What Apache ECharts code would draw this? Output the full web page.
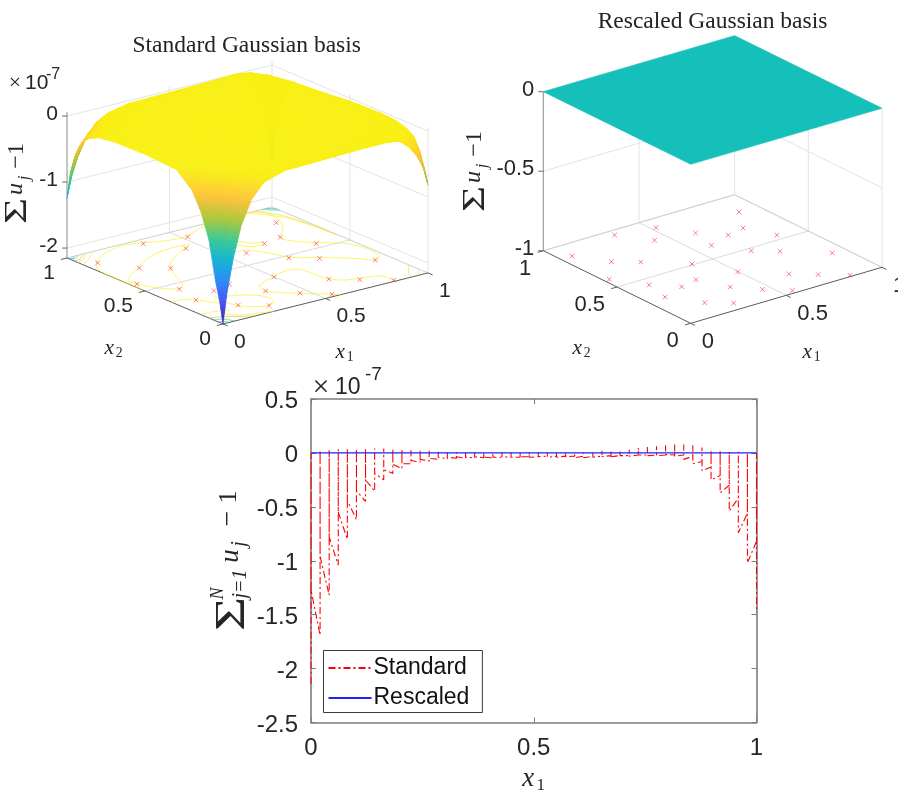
<!DOCTYPE html>
<html><head><meta charset="utf-8">
<style>html,body{margin:0;padding:0;background:#fff}#c{width:898px;height:791px}</style>
<script src="https://cdn.jsdelivr.net/npm/echarts@6/dist/echarts.min.js"></script>
</head><body><div id="c"></div>
<script>
// ---------- DATA ----------
const titleStandard = 'Standard Gaussian basis';
const titleRescaled = 'Rescaled Gaussian basis';
const legendNames = ['Standard', 'Rescaled'];
const floorTicks = [0, 0.5, 1];
const zTicksStandard = [0, -1, -2];
const zTicksRescaled = [0, -0.5, -1];
const lineTicksX = [0, 0.5, 1];
const lineTicksY = [-2.5, -2, -1.5, -1, -0.5, 0, 0.5];

const centresX1 = [.899,.806,.711,.870,.617,.587,.682,.772,.932,.523,.434,.338,.059,.150,.244,.399,.026,.119,.214,.308,.091,.183,.276,.371,.461,.551,.496,.651,.742,.842];
const centresX2 = [.839,.691,.668,.545,.768,.621,.474,.396,.249,.914,.808,.955,.881,.733,.656,.509,.586,.436,.339,.364,.292,.143,.067,.214,.112,.025,.325,.177,.098,.012];

const surfaceNodes = [0,.02,.05,.09,.14,.2,.3,.5,.7,.8,.86,.91,.95,.98,1];
// rows: x2 node, columns: x1 node (values in units of 1e-7)
const standardSurface = [
 [-2.15,-1.69,-1.20,-.72,-.37,-.16,-.06,-.04,-.02,-.02,-.04,-.18,-.36,-.56,-.82],
 [-1.85,-1.46,-1.04,-.64,-.33,-.16,-.07,-.04,-.02,-.03,-.05,-.15,-.28,-.43,-.62],
 [-1.52,-1.21,-.86,-.53,-.28,-.14,-.07,-.04,-.02,-.02,-.04,-.10,-.17,-.26,-.37],
 [-.97,-.77,-.55,-.34,-.18,-.10,-.05,-.03,-.02,-.01,-.02,-.05,-.09,-.12,-.17],
 [-.60,-.48,-.34,-.22,-.12,-.07,-.04,-.03,-.02,-.01,0,-.03,-.05,-.07,-.09],
 [-.32,-.26,-.19,-.12,-.07,-.05,-.03,-.03,-.02,0,0,-.01,-.02,-.03,-.05],
 [-.11,-.09,-.08,-.06,-.04,-.03,-.03,-.02,-.01,0,.01,0,-.01,-.02,-.03],
 [-.08,-.07,-.06,-.05,-.04,-.03,-.03,-.02,-.01,.01,.01,.01,0,-.02,-.05],
 [-.09,-.08,-.07,-.06,-.05,-.04,-.03,-.02,.01,.03,.03,.01,-.02,-.06,-.11],
 [-.13,-.11,-.09,-.07,-.05,-.04,-.03,-.01,.03,.05,.05,.02,-.02,-.08,-.15],
 [-.20,-.16,-.13,-.09,-.07,-.05,-.03,0,.03,.06,.06,.02,-.04,-.12,-.20],
 [-.33,-.26,-.20,-.14,-.09,-.06,-.03,0,.04,.07,.06,.01,-.07,-.19,-.33],
 [-.57,-.44,-.32,-.20,-.11,-.07,-.04,-.01,.03,.07,.04,-.06,-.17,-.38,-.62],
 [-.87,-.66,-.48,-.30,-.16,-.09,-.05,-.02,.01,.03,-.01,-.15,-.31,-.68,-1.02],
 [-1.25,-.96,-.68,-.42,-.21,-.105,-.04,-.03,-.02,-.01,-.08,-.28,-.50,-1.0,-1.48]
];
const rescaledNodes = [0, 1];
const rescaledSurface = [[0,0],[0,0]];

// floor contours: level, then [x1,x2] vertices
const contourLevels = [-.02,-.02,-.02,-.02,-.02,-.02,-.08,-.08, -.55,-1.0,-1.35, -1.35,-1.0,-.55,-.35,-.15, -.35,-.15,-1.0, -.3,-.12,-1.3,-1.0];
const contourPaths = [
 [[0,.521],[0,.617],[0,.72],[.014,.818],[.065,.895],[.151,.954],[.255,.985],[.346,.965],[.432,.929],[.517,.923],[.624,.967],[.681,.989],[.893,1]],
 [[.893,1],[.939,.976],[.932,.881],[.902,.803],[.838,.726],[.807,.70],[.805,.65],[.873,.558],[.955,.484],[.988,.398],[.978,.29],[.947,.248],[.926,.254],[.877,.317],[.78,.403],[.69,.477],[.657,.563],[.608,.651],[.567,.658],[.53,.70]],
 [[.479,.842],[.387,.848],[.265,.816],[.156,.748],[.041,.66],[.017,.629],[.03,.583],[.065,.49],[.127,.442],[.159,.468],[.208,.581],[.253,.673],[.341,.756],[.433,.812],[.479,.842]],
 [[.60,.76],[.645,.749],[.679,.698],[.717,.683],[.692,.662],[.65,.67],[.616,.721],[.60,.76]],
 [[.843,.016],[.831,.085],[.752,.111],[.699,.126],[.65,.179],[.643,.245],[.633,.339],[.583,.358],[.498,.332],[.397,.284],[.366,.233],[.374,.201],[.459,.11],[.552,.028],[.575,0]],
 [[0,.325],[.042,.331],[.091,.293],[.141,.204],[.158,.216],[.18,.139],[.219,.093],[.272,.067],[.312,.087],[.331,.123],[.319,.183],[.263,.236],[.199,.26],[.17,.28]],
 [[0,.14],[.06,.14],[.123,.117]],
 [[.068,.109],[.107,.053],[.181,.022],[.25,0]],
 [[0,.09],[.05,.07],[.11,.03],[.16,0]],
 [[0,.06],[.03,.05],[.06,0]],
 [[0,.03],[.02,.02],[.03,0]],
 [[0,.99],[.02,.985],[.035,1]],
 [[0,.975],[.03,.98],[.055,1]],
 [[0,.955],[.035,.96],[.075,1]],
 [[0,.93],[.04,.95],[.09,1]],
 [[0,.90],[.05,.93],[.125,1]],
 [[1,.12],[.95,.06],[.918,0]],
 [[.992,.052],[.958,0]],
 [[.99,.013],[.982,0]],
 [[.909,1],[.975,.873],[.995,.579]],
 [[.88,1],[.96,.87],[1,.65]],
 [[.97,1],[1,.97]],
 [[.95,1],[1,.95]]
];

// section plot: 50 sample columns along x1; each column runs start -> peak -> end
const sampleX1 = [0,.0204,.0408,.0612,.0816,.102,.1224,.1429,.1633,.1837,.2041,.2245,.2449,.2653,.2857,.3061,.3265,.3469,.3673,.3878,.4082,.4286,.449,.4694,.4898,.5102,.5306,.551,.5714,.5918,.6122,.6327,.6531,.6735,.6939,.7143,.7347,.7551,.7755,.7959,.8163,.8367,.8571,.8776,.898,.9184,.9388,.9592,.9796,1];
const standardStart = [-2.14,-1.69,-1.32,-1.04,-.80,-.62,-.45,-.355,-.25,-.19,-.145,-.10,-.085,-.075,-.06,-.055,-.05,-.05,-.045,-.045,-.045,-.04,-.04,-.04,-.035,-.035,-.03,-.03,-.03,-.03,-.03,-.03,-.03,-.025,-.025,-.025,-.02,-.02,-.02,-.02,-.02,-.02,-.03,-.08,-.13,-.21,-.30,-.42,-.56,-.82];
const standardPeak = [0,.025,.025,.035,.04,.04,.04,.04,.04,.04,.035,.025,.025,.02,.01,.005,.005,.005,.005,.005,.005,.005,.005,.005,.005,.005,.005,.005,0,0,0,.01,.02,.02,.02,.03,.046,.056,.062,.071,.077,.077,.071,.05,.025,.02,.01,.01,0,0];
const standardEnd = [-1.27,-.96,-.78,-.55,-.44,-.35,-.25,-.19,-.155,-.105,-.10,-.07,-.06,-.05,-.04,-.04,-.035,-.04,-.035,-.04,-.04,-.035,-.04,-.035,-.04,-.035,-.04,-.04,-.035,-.045,-.045,-.04,-.035,-.035,-.025,-.03,-.02,-.025,-.025,-.015,-.03,-.06,-.10,-.165,-.25,-.37,-.54,-.74,-1.02,-1.48];
const rescaledX1 = [0, .25, .5, .75, 1];
const rescaledValues = [0, 0, 0, 0, 0];

// ---------- HELPERS ----------
const INK = '#262626', SANS = '"Liberation Sans"', SERIF = '"Liberation Serif"';
const parulaStops = [[62,38,168],[72,82,244],[46,135,247],[18,177,214],[55,200,151],[171,199,57],[254,195,56],[249,240,20]];
function parula(t){
  t = Math.max(0, Math.min(1, t)) * (parulaStops.length - 1);
  const i = Math.min(Math.floor(t), parulaStops.length - 2), f = t - i;
  const c = parulaStops[i].map((v, k) => Math.round(v + (parulaStops[i+1][k] - v) * f));
  return `rgb(${c[0]},${c[1]},${c[2]})`;
}
const colorStandard = z => parula((z + 2.15) / 2.05);

const panelA = {axis:0, ux:[205,51], vx:[-156,66], zs:66, zMin:-2.15, zMax:.06, left:67, top:61.1, zTicks:zTicksStandard, font:21, zAxisGap:9};
const panelB = {axis:1, ux:[191.3,56], vx:[-147.4,72.6], zs:159, zMin:-1, zMax:0, left:543.3, top:35.7, zTicks:zTicksRescaled, font:22, zAxisGap:9};
[panelA, panelB].forEach(p => {
  p.xMin = p.vx[0]; p.xMax = p.ux[0];
  p.yMax = p.ux[1] + p.vx[1] + p.zs * (p.zMax - p.zMin);
});
const project = (p, a, b, z) => [p.ux[0]*a + p.vx[0]*b, p.ux[1]*a + p.vx[1]*b + p.zs*(z - p.zMin)];

function layer(p, items, draw, z){
  return {
    type:'custom', coordinateSystem:'cartesian2d', xAxisIndex:p.axis, yAxisIndex:p.axis,
    silent:true, clip:false, z:z, progressive:0, animation:false,
    data: items.map((_, i) => [i, 0]),
    renderItem: (params, api) => {
      const at = (a, b, zv) => api.coord(project(p, a, b, zv));
      return draw(items[params.dataIndex], at, params.dataIndex);
    }
  };
}
const seg = (a, b, stroke, w) => ({type:'line', silent:true, shape:{x1:a[0],y1:a[1],x2:b[0],y2:b[1]}, style:{stroke, lineWidth:w}});

function frameLayer(p){
  const items = [], GRID = '#e3e3e3';
  const f = p.zMin;
  floorTicks.forEach(t => {
    items.push({g:[[t,0,f],[t,1,f]], c:t===0||t===1?null:'#dcdcdc'});
    items.push({g:[[0,t,f],[1,t,f]], c:t===0||t===1?null:'#dcdcdc'});
  });
  floorTicks.slice(1).forEach(t => {
    items.push({g:[[t,1,f],[t,1,p.zMax]], c:GRID});
    items.push({g:[[1,1-t,f],[1,1-t,p.zMax]], c:GRID});
  });
  p.zTicks.forEach(v => {
    items.push({g:[[0,1,v],[1,1,v]], c:GRID});
    items.push({g:[[1,1,v],[1,0,v]], c:GRID});
  });
  // edge floor lines at the back, and the axes
  items.push({g:[[0,1,f],[1,1,f]], c:'#cfcfcf'});
  items.push({g:[[1,1,f],[1,0,f]], c:'#cfcfcf'});
  items.push({g:[[0,1,f],[0,1,p.zMax]], c:'#8c8c8c'});
  items.push({g:[[0,0,f],[1,0,f]], c:'#5c5c5c'});
  items.push({g:[[0,0,f],[0,1,f]], c:'#5c5c5c'});
  floorTicks.forEach(t => {
    items.push({g:[[t,0,f],[t,-.03,f]], c:'#5c5c5c'});
    items.push({g:[[0,t,f],[-.03,t,f]], c:'#5c5c5c'});
  });
  return layer(p, items.filter(i => i.c), (it, at) => seg(at(...it.g[0]), at(...it.g[1]), it.c, 1), 1);
}
function zTickLayer(p){
  return layer(p, p.zTicks, (v, at) => {
    const q = at(0, 1, v);
    return seg([q[0]-5, q[1]], q, '#6c6c6c', 1);
  }, 1);
}
function markerLayer(p){
  return layer(p, centresX1.map((a, i) => [a, centresX2[i]]), (c, at) => {
    const q = at(c[0], c[1], p.zMin), r = 2.3, col = 'rgba(255,40,40,.75)';
    return {type:'group', children:[
      seg([q[0]-r,q[1]-r],[q[0]+r,q[1]+r],col,.8),
      seg([q[0]-r,q[1]+r],[q[0]+r,q[1]-r],col,.8)
    ]};
  }, 3);
}
function surfaceLayer(p, nodes, rows, colorOf, n){
  const cells = [];
  for (let j = nodes.length - 2; j >= 0; j--) for (let i = nodes.length - 2; i >= 0; i--) cells.push([i, j]);
  return layer(p, cells, (cell, at) => {
    const [i, j] = cell;
    const a0 = nodes[i], a1 = nodes[i+1], b0 = nodes[j], b1 = nodes[j+1];
    const z00 = rows[j][i], z10 = rows[j][i+1], z01 = rows[j+1][i], z11 = rows[j+1][i+1];
    const pos = (s, t) => {
      const z = (z00*(1-s) + z10*s)*(1-t) + (z01*(1-s) + z11*s)*t;
      return {q: at(a0 + (a1-a0)*s, b0 + (b1-b0)*t, z), z};
    };
    const kids = [];
    for (let v = n-1; v >= 0; v--) for (let u = n-1; u >= 0; u--) {
      const A = pos(u/n, v/n), B = pos((u+1)/n, v/n), C = pos((u+1)/n, (v+1)/n), D = pos(u/n, (v+1)/n);
      const col = colorOf((A.z + B.z + C.z + D.z) / 4);
      kids.push({type:'polygon', silent:true, shape:{points:[A.q,B.q,C.q,D.q]}, style:{fill:col, stroke:col, lineWidth:.6}});
    }
    return {type:'group', children:kids};
  }, 5);
}
function labelLayer(p, labels){
  return layer(p, labels, (l, at) => {
    const q = at(l.a, l.b, l.z);
    return {type:'text', silent:true, style:{text:l.t, x:q[0]+l.dx, y:q[1]+l.dy, fill:INK, font:`${p.font}px ${SANS}`, textAlign:l.al, textVerticalAlign:'middle'}};
  }, 8);
}
function tickLabels(p, d){
  const out = [];
  floorTicks.forEach(t => {
    out.push({t:String(t), a:t, b:0, z:p.zMin, dx:d.ux, dy:d.uy, al:'left'});
    out.push({t:String(t), a:0, b:t, z:p.zMin, dx:d.vx, dy:d.vy, al:'right'});
  });
  p.zTicks.forEach(v => out.push({t:String(v), a:0, b:1, z:v, dx:-p.zAxisGap, dy:-2, al:'right'}));
  return out;
}

// math text pieces in the graphic layer
const piece = (x, y, text, font, align, extra) => Object.assign({type:'text', silent:true, x, y, style:{text, font, fill:INK, textAlign:align||'center', textVerticalAlign:'middle'}}, extra||{});
function subscripted(cx, cy, base, sub, size){
  return {type:'group', x:cx, y:cy, silent:true, children:[
    piece(-size*.2, -size*.08, base, `italic ${size*1.12}px ${SERIF}`),
    piece(size*.33, size*.2, sub, `${size*.72}px ${SERIF}`)
  ]};
}
function sumLabel(x, y){
  return {type:'group', x, y, rotation:Math.PI/2, silent:true, children:[
    piece(16, 0, 'Σ', `32px ${SERIF}`, 'center', {scaleX:1.4}),
    piece(38, -2, 'u', `italic 24px ${SERIF}`),
    piece(49, 7, 'j', `italic 17px ${SERIF}`),
    piece(65, -1, '−', `24px ${SERIF}`),
    piece(78, -1, '1', `24px ${SERIF}`)
  ]};
}
function exponent(x, y, size, timesSize, supSize, gap1, gap2, supUp){
  return {type:'group', x, y, silent:true, children:[
    piece(0, 0, '×', `${timesSize}px ${SERIF}`),
    piece(gap1, 0, '10', `${size}px ${SANS}`, 'left'),
    piece(gap2, -supUp, '-7', `${supSize}px ${SANS}`, 'left')
  ]};
}

// ---------- SECTION PLOT LINES ----------
const standardLine = [];
sampleX1.forEach((x, k) => {
  standardLine.push([x, standardStart[k]], [x, standardPeak[k]], [x, standardEnd[k]]);
});
const rescaledLine = rescaledX1.map((x, k) => [x, rescaledValues[k]]);

// ---------- CHART ----------
const chart = echarts.init(document.getElementById('c'), null, {renderer:'canvas'});
const hiddenAxis = (p, idx, horizontal) => ({
  type:'value', gridIndex:idx, show:false,
  min: horizontal ? p.xMin : 0, max: horizontal ? p.xMax : p.yMax
});
const LINE_GRAY = '#7d7d7d';
const boxAxis = (extra) => Object.assign({
  type:'value', gridIndex:2,
  axisLine:{show:true, onZero:false, lineStyle:{color:LINE_GRAY, width:1.6}},
  axisTick:{show:true, inside:true, length:5, lineStyle:{color:LINE_GRAY, width:1}},
  splitLine:{show:false}, axisLabel:{show:false}
}, extra);
const labelStyle = (margin) => ({show:true, color:INK, fontFamily:SANS, fontSize:24, margin, hideOverlap:false, showMinLabel:true, showMaxLabel:true});

chart.setOption({
  animation:false,
  backgroundColor:'#fff',
  title:[
    {text:titleStandard, left:241.7, top:29, textAlign:'center', textStyle:{fontFamily:SERIF, fontWeight:'normal', fontSize:23.5, color:'#222'}},
    {text:titleRescaled, left:707.5, top:5, textAlign:'center', textStyle:{fontFamily:SERIF, fontWeight:'normal', fontSize:23.5, color:'#222'}}
  ],
  legend:{
    data:legendNames, orient:'vertical', left:323.5, top:650.5,
    backgroundColor:'#fff', borderColor:'#3a3a3a', borderWidth:1, borderRadius:0,
    padding:[6,13,3,4], itemGap:7, itemWidth:43, itemHeight:14,
    itemStyle:{opacity:0},
    textStyle:{fontFamily:SANS, fontSize:23, color:'#111', padding:[0,0,0,-3]}
  },
  grid:[
    {left:panelA.left, top:panelA.top, width:panelA.xMax-panelA.xMin, height:panelA.yMax, containLabel:false},
    {left:panelB.left, top:panelB.top, width:panelB.xMax-panelB.xMin, height:panelB.yMax, containLabel:false},
    {left:311, top:399, width:445.5, height:323.5, containLabel:false}
  ],
  xAxis:[
    hiddenAxis(panelA,0,true), hiddenAxis(panelB,1,true),
    boxAxis({position:'bottom', min:lineTicksX[0], max:lineTicksX[2], interval:.5,
      axisLabel:Object.assign(labelStyle(14),{customValues:lineTicksX}),
      axisTick:{show:true, inside:true, length:5, lineStyle:{color:LINE_GRAY, width:1}, customValues:lineTicksX}}),
    boxAxis({position:'top', min:lineTicksX[0], max:lineTicksX[2], interval:.5})
  ],
  yAxis:[
    hiddenAxis(panelA,0,false), hiddenAxis(panelB,1,false),
    boxAxis({position:'left', min:lineTicksY[0], max:lineTicksY[6], interval:.5,
      axisLabel:Object.assign(labelStyle(13),{formatter:v => `{a|${v}}`, rich:{a:{fontFamily:SANS, fontSize:24, color:INK, padding:[5,0,0,0]}}})}),
    boxAxis({position:'right', min:lineTicksY[0], max:lineTicksY[6], interval:.5})
  ],
  series:[
    frameLayer(panelA), zTickLayer(panelA),
    layer(panelA, contourPaths.map((c, i) => ({c, l:contourLevels[i]})), (it, at) => ({
      type:'polyline', silent:true, shape:{points:it.c.map(v => at(v[0], v[1], panelA.zMin)), smooth:.35},
      style:{stroke:colorStandard(it.l), lineWidth:.8, opacity:.8, fill:null}
    }), 2),
    markerLayer(panelA),
    surfaceLayer(panelA, surfaceNodes, standardSurface, colorStandard, 6),
    labelLayer(panelA, tickLabels(panelA, {ux:11, uy:18, vx:-12, vy:15.5})),

    frameLayer(panelB), zTickLayer(panelB),
    markerLayer(panelB),
    surfaceLayer(panelB, rescaledNodes, rescaledSurface, () => '#15bfba', 1),
    labelLayer(panelB, tickLabels(panelB, {ux:11, uy:19, vx:-12, vy:18})),

    {name:legendNames[0], type:'line', xAxisIndex:2, yAxisIndex:2, data:standardLine, showSymbol:false, symbol:'none', z:6,
      itemStyle:{color:'#ff0000'}, lineStyle:{color:'#ff0000', width:1.1, type:[7,3,2,3]}, silent:true},
    {name:legendNames[1], type:'line', xAxisIndex:2, yAxisIndex:2, data:rescaledLine, showSymbol:false, symbol:'none', z:7,
      itemStyle:{color:'#2020ff'}, lineStyle:{color:'#2020ff', width:1.2}, silent:true}
  ],
  graphic:[
    subscripted(113, 350, 'x', '2', 19),
    subscripted(344, 354, 'x', '1', 19),
    subscripted(581, 350, 'x', '2', 19),
    subscripted(811, 354, 'x', '1', 19),
    subscripted(533, 781, 'x', '1', 24),
    sumLabel(18, 227),
    sumLabel(476, 215),
    exponent(15, 83, 21, 22, 16, 10, 31, 8),
    exponent(321, 388, 23, 30, 19, 14, 44, 13),
    {type:'group', x:232, y:632, rotation:Math.PI/2, silent:true, children:[
      piece(18, 0.5, 'Σ', `42px ${SERIF}`, 'center', {scaleX:1.4}),
      piece(38.5, -13.5, 'N', `italic 18px ${SERIF}`),
      piece(48, 9, 'j=1', `italic 20px ${SERIF}`),
      piece(76, -1, 'u', `italic 27px ${SERIF}`),
      piece(88, 8, 'j', `italic 20px ${SERIF}`),
      piece(113.5, -3, '−', `28px ${SERIF}`),
      piece(135, -3, '1', `26px ${SERIF}`)
    ]}
  ]
});
</script></body></html>
